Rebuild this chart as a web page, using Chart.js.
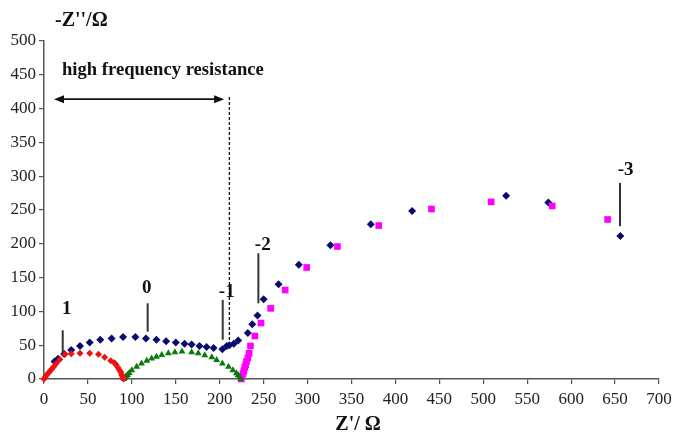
<!DOCTYPE html>
<html>
<head>
<meta charset="utf-8">
<script src="https://cdn.jsdelivr.net/npm/chart.js@4/dist/chart.umd.min.js"></script>
<style>
  html, body { margin: 0; padding: 0; background: #ffffff; }
  #wrap { width: 683px; height: 435px; position: relative; }
</style>
</head>
<body>
<div id="wrap"><canvas id="c" width="683" height="435"></canvas></div>
<script>
// ---- data (Z' in ohm, -Z'' in ohm) ----
const seriesNames = ['1', '0', '-1 / -3', '-2'];

const redX = [0, 1.5, 3, 5, 7, 9, 11, 14, 18, 24, 31, 41, 52, 62, 69, 76, 80, 82, 84, 86, 87.5, 88.5, 89.5, 90.5];
const redY = [0, 3, 6, 9, 12, 15, 18, 23, 29, 36.5, 37.5, 38, 38, 36.5, 32, 27, 24, 21, 17, 13, 10, 6, 3, 0];

const greenX = [91, 92, 93.3, 95, 97, 100, 105.5, 111, 117, 122.5, 128, 134, 141.5, 149, 157, 168, 175.6, 183, 191, 196.5, 203, 210, 215, 219, 221, 222.5, 224];
const greenY = [0, 2, 4, 6, 9, 13, 18, 23, 27, 30.5, 33, 35.5, 38, 39.5, 40.5, 39.5, 38, 35, 32, 28, 23, 18, 13, 8.5, 5.5, 3, 0];

const blueX = [12, 16, 23, 31, 41, 52, 64, 77, 90, 104, 116, 128, 139, 150, 160, 168, 177, 185, 193, 203, 208, 211, 216, 221, 232, 237, 243, 250, 267, 290, 326, 372, 419, 526, 574, 656];
const blueY = [26, 30, 37, 43, 49, 54, 58, 60, 62, 62, 60, 58, 56, 54, 52, 51, 49, 47.5, 46, 44, 49, 50, 52, 57, 68, 81, 94, 118, 140, 169, 198, 229, 248.5, 271, 261, 211.5];

const pinkX = [224.5, 225.5, 226.5, 227.5, 228.5, 229.5, 230.5, 232, 233.5, 235, 240, 247, 258, 274.5, 299, 334, 381, 441, 509, 578.5, 641.5];
const pinkY = [0, 4, 8, 12, 17, 21, 26, 31, 38, 48.8, 63.6, 82.8, 104.5, 131.6, 165, 196, 227, 251.5, 262, 256, 236];

const xMin = 0, xMax = 700, xStep = 50;
const yMin = 0, yMax = 500, yStep = 50;

const xTitle = "Z'/ \u03A9";
const yTitle = "-Z''/\u03A9";
const noteText = 'high frequency resistance';

// annotation labels: [text, textX, textY, lineX, lineY1, lineY2] in data units
const markerLabels = [
  ['1', 25.8, 103, 21.3, 72, 38.5],
  ['0', 117, 134, 118, 112, 70],
  ['-1', 208, 129, 203.4, 117, 58],
  ['-2', 249, 198, 244, 186, 112],
  ['-3', 662, 309, 655.6, 290, 226]
];
const arrowSpan = [11.4, 205, 414];   // x1, x2, y
const dashedLine = [211, 417, 53];     // x, y1, y2
const notePos = [20.5, 457];
const xTitlePos = 357.5;

function pts(xs, ys) { return xs.map((x, i) => ({ x: x, y: ys[i] })); }

const serif = "'Liberation Serif', 'Times New Roman', 'DejaVu Serif', serif";

const annot = {
  id: 'annot',
  afterDatasetsDraw(chart) {
    const ctx = chart.ctx, sx = chart.scales.x, sy = chart.scales.y;
    const X = v => sx.getPixelForValue(v), Y = v => sy.getPixelForValue(v);
    ctx.save();
    ctx.fillStyle = '#111';
    ctx.textAlign = 'center';
    ctx.textBaseline = 'middle';
    ctx.font = 'bold 19px ' + serif;
    ctx.strokeStyle = '#333';
    ctx.lineWidth = 2;
    markerLabels.forEach(m => {
      ctx.fillText(m[0], X(m[1]), Y(m[2]));
      ctx.beginPath();
      ctx.moveTo(X(m[3]), Y(m[4]));
      ctx.lineTo(X(m[3]), Y(m[5]));
      ctx.stroke();
    });
    const ax1 = X(arrowSpan[0]), ax2 = X(arrowSpan[1]), ay = Y(arrowSpan[2]);
    ctx.strokeStyle = '#111';
    ctx.fillStyle = '#111';
    ctx.lineWidth = 1.8;
    ctx.beginPath(); ctx.moveTo(ax1 + 4, ay); ctx.lineTo(ax2 - 4, ay); ctx.stroke();
    ctx.beginPath(); ctx.moveTo(ax1, ay); ctx.lineTo(ax1 + 10, ay - 4); ctx.lineTo(ax1 + 10, ay + 4); ctx.closePath(); ctx.fill();
    ctx.beginPath(); ctx.moveTo(ax2, ay); ctx.lineTo(ax2 - 10, ay - 4); ctx.lineTo(ax2 - 10, ay + 4); ctx.closePath(); ctx.fill();
    ctx.setLineDash([3, 2]);
    ctx.lineWidth = 1.3;
    ctx.beginPath(); ctx.moveTo(X(dashedLine[0]), Y(dashedLine[1])); ctx.lineTo(X(dashedLine[0]), Y(dashedLine[2])); ctx.stroke();
    ctx.setLineDash([]);
    ctx.textAlign = 'left';
    ctx.font = 'bold 18.6px ' + serif;
    ctx.fillText(noteText, X(notePos[0]), Y(notePos[1]));
    ctx.font = 'bold 20px ' + serif;
    ctx.fillText(yTitle, chart.chartArea.left + 11, chart.chartArea.top - 20);
    ctx.textAlign = 'center';
    ctx.fillText(xTitle, X(xTitlePos), chart.chartArea.bottom + 46);
    ctx.restore();
  }
};

new Chart(document.getElementById('c'), {
  type: 'scatter',
  data: {
    datasets: [
      { label: seriesNames[0], data: pts(redX, redY), pointStyle: 'rectRot', radius: 3.5, backgroundColor: '#f01010', borderColor: '#f01010', borderWidth: 0, clip: false },
      { label: seriesNames[1], data: pts(greenX, greenY), pointStyle: 'triangle', radius: 4, backgroundColor: '#0a7a0a', borderColor: '#0a7a0a', borderWidth: 0, clip: false },
      { label: seriesNames[3], data: pts(pinkX, pinkY), pointStyle: 'rect', radius: 4.7, backgroundColor: '#ff00ff', borderColor: '#ff00ff', borderWidth: 0, clip: false },
      { label: seriesNames[2], data: pts(blueX, blueY), pointStyle: 'rectRot', radius: 4, backgroundColor: '#0a0a6e', borderColor: '#0a0a6e', borderWidth: 0, clip: false }
    ]
  },
  options: {
    responsive: false,
    animation: false,
    layout: { padding: { top: 41, right: 24, left: 0, bottom: 0 } },
    plugins: { legend: { display: false }, tooltip: { enabled: false } },
    scales: {
      x: {
        type: 'linear', min: xMin, max: xMax,
        ticks: { stepSize: xStep, color: '#222', padding: 5, font: { family: serif, size: 17 } },
        grid: { drawOnChartArea: false, drawTicks: true, tickLength: 5, color: '#555', lineWidth: 1.2 },
        border: { display: true, color: '#555', width: 1.5 },
        afterFit(s) { s.height = 56; }
      },
      y: {
        type: 'linear', min: yMin, max: yMax,
        ticks: { stepSize: yStep, color: '#222', padding: 3, font: { family: serif, size: 17 } },
        grid: { drawOnChartArea: false, drawTicks: true, tickLength: 5, color: '#555', lineWidth: 1.2 },
        border: { display: true, color: '#555', width: 1.5 },
        afterFit(s) { s.width = 44; }
      }
    }
  },
  plugins: [annot]
});
</script>
</body>
</html>
